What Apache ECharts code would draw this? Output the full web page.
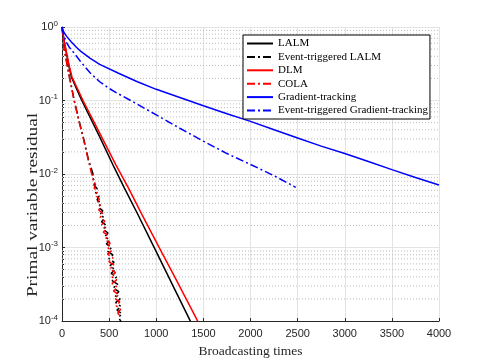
<!DOCTYPE html>
<html>
<head>
<meta charset="utf-8">
<script src="https://cdn.jsdelivr.net/npm/echarts@6/dist/echarts.min.js"></script>
<style>
html,body{margin:0;padding:0;background:#fff;}
#c{width:485px;height:363px;}
</style>
</head>
<body>
<div id="c"></div>
<script>
// ---- data (broadcast count, residual) ----
const xTicks = [0, 500, 1000, 1500, 2000, 2500, 3000, 3500, 4000];
const yDecades = [1e-4, 1e-3, 1e-2, 1e-1, 1];
const minorMultipliers = [2, 3, 4, 5, 6, 7, 8, 9];
const xTitle = 'Broadcasting times';
const yTitle = 'Primal variable residual';

const lalmX = [0, 10, 25, 50, 75, 100, 150, 210, 400, 555, 661, 800, 980, 1200, 1362];
const lalmY = [1, 0.813, 0.617, 0.417, 0.288, 0.209, 0.148, 0.1, 0.032, 0.0122, 0.0065, 0.00291, 0.00099, 0.000264, 0.0001];

const etLalmX = [0, 10, 25, 50, 80, 130, 180, 230, 280,
  329, 324, 351, 340, 373, 356, 393, 372, 413, 388, 433, 404, 451, 420, 471, 437, 488, 453, 508, 471,
  526, 484, 540, 497, 553, 507, 567, 521, 580, 532, 592, 542, 604, 557, 617, 569, 627, 583, 636, 600, 631];
const etLalmY = [1, 0.759, 0.501, 0.331, 0.209, 0.1, 0.0537, 0.0302, 0.0158,
  0.01, 0.00891, 0.00794, 0.00708, 0.00631, 0.00562, 0.00501, 0.00447, 0.00398, 0.00355, 0.00316, 0.00282, 0.00251, 0.00224, 0.002, 0.00178, 0.00158, 0.00141, 0.00126, 0.00112,
  0.001, 0.000891, 0.000794, 0.000708, 0.000631, 0.000562, 0.000501, 0.000447, 0.000398, 0.000355, 0.000316, 0.000282, 0.000251, 0.000224, 0.0002, 0.000178, 0.000158, 0.000141, 0.000126, 0.000112, 0.0000955];

const dlmX = [0, 10, 25, 50, 75, 106, 150, 223, 400, 573, 707, 850, 1033, 1200, 1440];
const dlmY = [1, 0.832, 0.631, 0.437, 0.302, 0.209, 0.158, 0.1, 0.036, 0.0132, 0.0064, 0.00278, 0.00099, 0.00039, 0.0001];

const colaX = [0, 10, 25, 50, 80, 130, 180, 230, 280,
  315, 334, 327, 356, 341, 376, 357, 396, 373, 416, 389, 436, 405, 454, 421, 473, 438, 493, 456, 511, 472,
  527, 483, 541, 497, 553, 508, 568, 520, 580, 530, 591, 545, 603, 559, 613, 574, 622, 592, 617];
const colaY = [1, 0.74, 0.49, 0.325, 0.205, 0.098, 0.052, 0.029, 0.0152,
  0.01, 0.00912, 0.00813, 0.00724, 0.00646, 0.00575, 0.00513, 0.00457, 0.00407, 0.00363, 0.00324, 0.00288, 0.00257, 0.00229, 0.00204, 0.00182, 0.00162, 0.00145, 0.00129, 0.00115, 0.00102,
  0.000912, 0.000813, 0.000724, 0.000646, 0.000575, 0.000513, 0.000457, 0.000407, 0.000363, 0.000324, 0.000288, 0.000257, 0.000229, 0.000204, 0.000182, 0.000162, 0.000145, 0.000129, 0.000117];

const gtX = [0, 5, 15, 30, 50, 75, 100, 150, 200, 300, 400, 600, 800, 1000, 1250, 1500, 1750, 2000, 2250, 2500, 2750, 3000, 3250, 3500, 3750, 4000];
const gtY = [1, 0.95, 0.88, 0.81, 0.745, 0.68, 0.625, 0.535, 0.465, 0.375, 0.31, 0.235, 0.18, 0.142, 0.11, 0.085, 0.066, 0.052, 0.040, 0.031, 0.024, 0.019, 0.0148, 0.0115, 0.009, 0.0071];

const etGtX = [0, 5, 15, 30, 50, 75, 100, 150, 200, 300, 400, 500, 600, 800, 1000, 1250, 1500, 1750, 2000, 2250, 2480];
const etGtY = [1, 0.9, 0.8, 0.7, 0.61, 0.535, 0.49, 0.407, 0.335, 0.237, 0.18, 0.146, 0.123, 0.089, 0.0638, 0.042, 0.028, 0.019, 0.0135, 0.0095, 0.0066];

const names = ['LALM', 'Event-triggered LALM', 'DLM', 'COLA', 'Gradient-tracking', 'Event-triggered Gradient-tracking'];

function pairs(xs, ys) { return xs.map((x, i) => [x, ys[i]]); }

const solid = 'solid';
const dashdot = [8, 3, 2, 3];
function mk(name, xs, ys, color, type) {
  return {
    name: name, type: 'line', data: pairs(xs, ys), symbol: 'none', showSymbol: false,
    lineStyle: { color: color, width: 1.5, type: type }, itemStyle: { color: color },
    animation: false, clip: true, z: 3, silent: true
  };
}

// minor (dotted) grid lines of the log axis, drawn through the axes' scales
const minorVals = [];
const minorSeries = [];
yDecades.slice(0, 4).forEach(d => minorMultipliers.forEach(m => {
  const v = +(d * m).toPrecision(3);
  minorVals.push(v);
  minorSeries.push({
    type: 'line', data: [[xTicks[0], v], [xTicks[xTicks.length - 1], v]], symbol: 'none', silent: true,
    lineStyle: { type: [1, 2], color: '#bcbcbc', width: 1 }, z: 1, animation: false
  });
}));

const series = minorSeries.concat([
  mk(names[0], lalmX, lalmY, '#000000', solid),
  mk(names[1], etLalmX, etLalmY, '#000000', dashdot),
  mk(names[2], dlmX, dlmY, '#ff0000', solid),
  mk(names[3], colaX, colaY, '#ff0000', dashdot),
  mk(names[4], gtX, gtY, '#0000ff', solid),
  mk(names[5], etGtX, etGtY, '#0000ff', dashdot)
]);

const chart = echarts.init(document.getElementById('c'), null, { renderer: 'canvas' });
chart.setOption({
  backgroundColor: '#ffffff',
  animation: false,
  grid: { left: 62, right: 46, top: 27, bottom: 41, containLabel: false },
  legend: {
    data: names, orient: 'vertical', left: 243, top: 35,
    itemWidth: 26, itemHeight: 10, itemGap: 2.4,
    padding: [3, 2, 3, 3],
    backgroundColor: '#ffffff', borderColor: '#000000', borderWidth: 1,
    itemStyle: { color: 'transparent', borderWidth: 0, opacity: 0 },
    textStyle: { fontFamily: 'Liberation Serif', fontSize: 11, color: '#000', lineHeight: 10 },
    selectedMode: false
  },
  graphic: [{
    type: 'text', x: 33, y: 205, rotation: Math.PI / 2, scaleX: 1.33, scaleY: 1, silent: true,
    style: { text: yTitle, font: '14.5px "Liberation Serif"', fill: '#262626', align: 'center', verticalAlign: 'middle' }
  }],
  xAxis: {
    type: 'value', min: 0, max: 4000, interval: 500,
    name: xTitle, nameLocation: 'middle', nameGap: 22,
    nameTextStyle: { fontFamily: 'Liberation Serif', fontSize: 13.5, color: '#262626' },
    axisLine: { show: true, onZero: false, lineStyle: { color: '#262626', width: 1 } },
    axisTick: { show: true, inside: true, length: 3, lineStyle: { color: '#262626' } },
    axisLabel: { fontFamily: 'Liberation Sans', fontSize: 11, color: '#262626', margin: 7,
      formatter: function (v) { return String(v); } },
    splitLine: { show: true, lineStyle: { color: '#e3e3e3', width: 1 } }
  },
  yAxis: [{
    type: 'log', logBase: 10, min: 1e-4, max: 1, position: 'left',
    axisLine: { show: true, onZero: false, lineStyle: { color: '#262626', width: 1 } },
    axisTick: { show: true, inside: true, length: 3, lineStyle: { color: '#262626' } },
    axisLabel: {
      fontFamily: 'Liberation Sans', fontSize: 11, color: '#262626', margin: 4,
      formatter: function (v) {
        const e = Math.round(Math.log10(v));
        return '{b|10}{s|' + e + '}';
      },
      rich: {
        b: { fontFamily: 'Liberation Sans', fontSize: 11, color: '#262626' },
        s: { fontFamily: 'Liberation Sans', fontSize: 8, color: '#262626', verticalAlign: 'bottom', padding: [0, 0, 7, 0] }
      }
    },
    splitLine: { show: true, lineStyle: { color: '#e3e3e3', width: 1 } }
  }, {
    type: 'log', logBase: 10, min: 1e-4, max: 1, position: 'left', offset: 0,
    axisLine: { show: false },
    axisLabel: { show: false },
    splitLine: { show: false },
    axisTick: { show: true, inside: true, length: 2, customValues: minorVals, lineStyle: { color: '#262626' } }
  }],
  series: series
});
</script>
</body>
</html>
